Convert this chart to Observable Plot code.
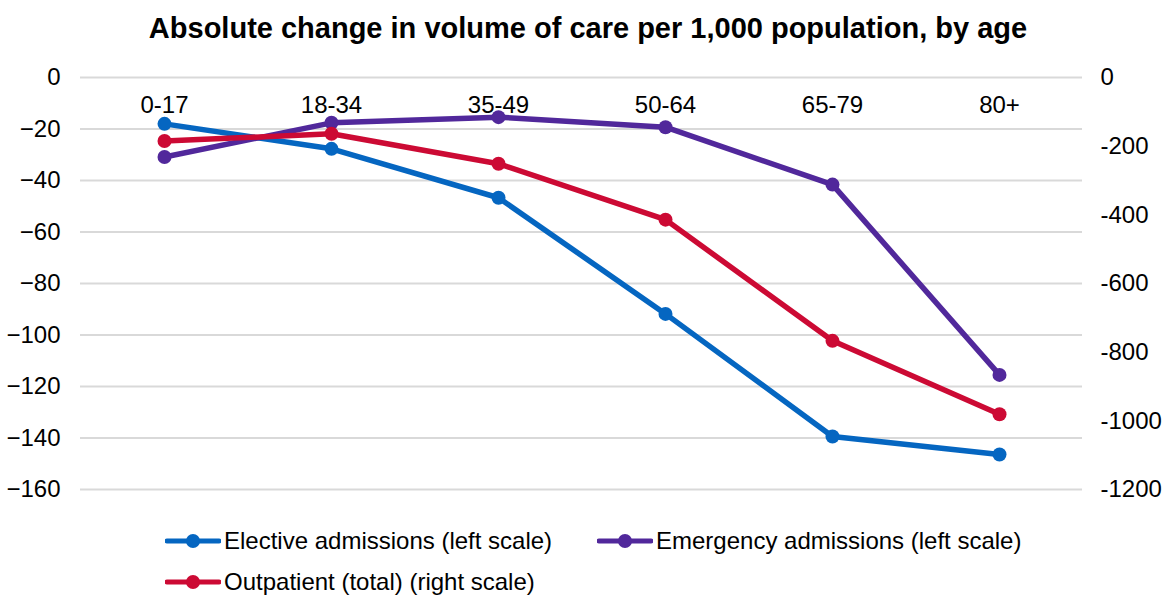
<!DOCTYPE html>
<html>
<head>
<meta charset="utf-8">
<script src="https://cdn.jsdelivr.net/npm/d3@7"></script>
<script src="https://cdn.jsdelivr.net/npm/@observablehq/plot@0.6"></script>
<style>
  html, body { margin: 0; padding: 0; background: #fff; }
  #wrap { position: relative; width: 1168px; height: 596px; font-family: "Liberation Sans", Arial, sans-serif; color: #000; overflow: hidden; }
  #title { position: absolute; left: 0; top: 10px; width: 1176px; text-align: center; font-weight: bold; font-size: 29px; line-height: 36px; }
  #chart { position: absolute; left: 0; top: 50px; }
  .leg { position: absolute; display: flex; align-items: center; font-size: 24px; line-height: 30px; white-space: nowrap; }
  .leg svg { margin-right: 3px; }
</style>
</head>
<body>
<div id="wrap">
  <div id="title">Absolute change in volume of care per 1,000 population, by age</div>
  <div id="chart"></div>
  <div id="legend"></div>
</div>
<script>
// ---- data ----
const ageGroups = ["0-17", "18-34", "35-49", "50-64", "65-79", "80+"];
const elective = [-18.0, -27.7, -46.7, -91.8, -139.4, -146.4];     // left scale
const emergency = [-30.9, -17.6, -15.4, -19.3, -41.6, -115.5];     // left scale
const outpatient = [-185, -164, -251, -414, -767, -981];           // right scale
const leftTicks = [0, -20, -40, -60, -80, -100, -120, -140, -160];
const rightTicks = [0, -200, -400, -600, -800, -1000, -1200];
const seriesNames = ["Elective admissions (left scale)", "Emergency admissions (left scale)", "Outpatient (total) (right scale)"];
const seriesColors = ["#0566C1", "#51289B", "#CC0A34"];

const ratio = 1200 / 160; // right scale units per left scale unit

const rows = [];
ageGroups.forEach((a, i) => {
  rows.push({age: a, series: seriesNames[0], value: elective[i], y: elective[i]});
  rows.push({age: a, series: seriesNames[1], value: emergency[i], y: emergency[i]});
  rows.push({age: a, series: seriesNames[2], value: outpatient[i], y: outpatient[i] / ratio});
});

const colorOf = Object.fromEntries(seriesNames.map((s, i) => [s, seriesColors[i]]));

const marks = [
  Plot.ruleY(leftTicks, {stroke: "#d9d9d9", strokeWidth: 2}),
  Plot.axisY({anchor: "left", ticks: leftTicks, tickSize: 0, tickPadding: 20, fontSize: 24, label: null}),
  Plot.axisY({anchor: "right", ticks: rightTicks.map(t => t / ratio), tickSize: 0, tickPadding: 18, fontSize: 24, label: null,
              tickFormat: d => String(Math.round(d * ratio))}),
  Plot.text(ageGroups, {x: d => d, y: () => 0, dy: 28, fontSize: 24, fill: "#000"})
];
seriesNames.forEach(s => {
  const data = rows.filter(r => r.series === s);
  marks.push(Plot.line(data, {x: "age", y: "y", stroke: colorOf[s], strokeWidth: 5.5, strokeLinejoin: "round", strokeLinecap: "round"}));
  marks.push(Plot.dot(data, {x: "age", y: "y", r: 7, fill: colorOf[s], stroke: "none"}));
});

const chart = Plot.plot({
  width: 1168,
  height: 451,
  marginLeft: 80,
  marginRight: 86,
  marginTop: 27,
  marginBottom: 12,
  style: {fontFamily: "'Liberation Sans', Arial, sans-serif", fontSize: "24px", color: "#000", background: "#fff"},
  x: {type: "point", domain: ageGroups, padding: 0.5, axis: null},
  y: {domain: [-160, 0], axis: null},
  marks
});
document.getElementById("chart").appendChild(chart);

// ---- legend ----
const legendPos = [
  {left: 165, top: 526},
  {left: 597, top: 526},
  {left: 165, top: 567}
];
const legend = document.getElementById("legend");
seriesNames.forEach((s, i) => {
  const div = document.createElement("div");
  div.className = "leg";
  div.style.left = legendPos[i].left + "px";
  div.style.top = legendPos[i].top + "px";
  div.innerHTML = `<svg width="56" height="30"><line x1="2" y1="15" x2="54" y2="15" stroke="${seriesColors[i]}" stroke-width="5" stroke-linecap="round"/><circle cx="28" cy="15" r="7" fill="${seriesColors[i]}"/></svg><span>${s}</span>`;
  legend.appendChild(div);
});
</script>
</body>
</html>
